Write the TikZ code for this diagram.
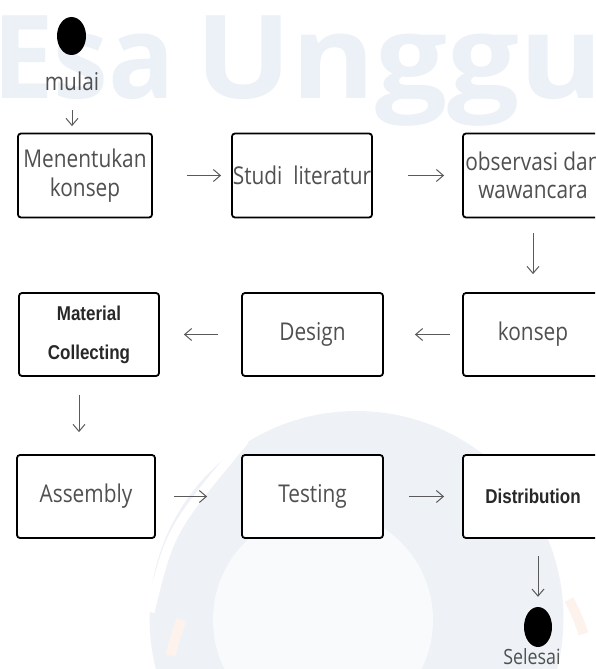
\documentclass[tikz,border=0pt]{standalone}
\usepackage{fontspec}
\setmainfont{Open Sans}[FakeStretch=0.85]
\newfontfamily\narrowsans{Liberation Sans}[FakeStretch=0.85]
\newfontfamily\esafont{Open Sans}[FakeStretch=0.95]
\newfontfamily\unggulfont{Open Sans}[FakeStretch=1.1]
\usetikzlibrary{arrows.meta,shapes.geometric}

\definecolor{labelgray}{RGB}{80,80,80}
\definecolor{boldgray}{RGB}{40,40,40}
\definecolor{arrowgray}{RGB}{90,90,90}
\definecolor{markblue}{RGB}{236,241,248}
\definecolor{markband}{RGB}{238,242,247}
\definecolor{markinner}{RGB}{248,250,252}
\definecolor{markorange}{RGB}{254,243,236}

\tikzset{
  stepbox/.style={draw=black, line width=1.8pt, rounded corners=3pt, fill=white,
    minimum width=140pt, minimum height=83pt, inner sep=0pt, align=center,
    text=labelgray, font=\fontsize{24.5}{28.5}\selectfont},
  boldbox/.style={stepbox, text=boldgray, font=\narrowsans\bfseries\fontsize{20}{39}\selectfont},
  dot/.style={ellipse, fill=black, inner sep=0pt, minimum width=29pt, minimum height=38pt},
  caption/.style={inner sep=0pt, anchor=base, text=labelgray},
  flow/.style={draw=arrowgray, line width=1pt, -{Straight Barb[length=7pt,width=12pt]}},
  watermark/.style={anchor=base west, inner sep=0pt, text=markblue,
    font=\bfseries\fontsize{116}{116}\selectfont}
}

\begin{document}
\begin{tikzpicture}[x=1pt, y=-1pt]
    \useasboundingbox (0,0) rectangle (595,669);
    \clip (0,0) rectangle (595,669);
    % watermark
    \fill[markband] (356.5,618) circle (207);
    \draw[white, line width=9pt] (150,612) .. controls (170,530) .. (245,440);
    \fill[markinner] (323,620) circle (110);
    \draw[markorange, line width=10pt] (380,700) ++(192:214) arc (192:202:214);
    \draw[markorange, line width=10pt] (380,700) ++(332:214) arc (332:342:214);
    \node[watermark] (wm) at (-8,99) {{\esafont Esa}\hspace{20pt}{\unggulfont Unggul}};

    \node[dot] (0) at (71.5,36) {};
    \node[caption, font=\fontsize{24.5}{28.5}\selectfont] (0l) at (72,90) {mulai};
    \node[stepbox, minimum width=134pt, minimum height=84pt] (1) at (85,175.5) {Menentukan\\konsep};
    \node[stepbox, minimum height=84pt] (2) at (302,175.5) {Studi\ \ literatur};
    \node[stepbox, minimum height=84pt] (3) at (533,175.5) {observasi dan\\wawancara};
    \node[stepbox] (4) at (533,334.5) {konsep};
    \node[stepbox, minimum width=141pt] (5) at (312.5,334.5) {Design};
    \node[boldbox] (6) at (89,334.5) {Material\\Collecting};
    \node[stepbox, minimum width=138pt] (7) at (86,496.5) {Assembly};
    \node[stepbox, minimum width=141pt] (8) at (312.5,496.5) {Testing};
    \node[boldbox] (9) at (533,496.5) {Distribution};
    \node[dot, minimum width=28pt, minimum height=40pt] (10) at (538,627) {};
    \node[caption, font=\fontsize{21}{24}\selectfont] (10l) at (532,664) {Selesai};

    \draw[flow, shorten <=20pt, shorten >=6.5pt] (0l.south) -- (0l.south |- 1.north);
    \draw[flow, shorten <=34pt, shorten >=10pt] (1) -- (2);
    \draw[flow, shorten <=35pt, shorten >=18pt] (2) -- (3);
    \draw[flow, shorten <=15pt, shorten >=18pt] (3) -- (4);
    \draw[flow, shorten <=12pt, shorten >=31pt] (4) -- (5);
    \draw[flow, shorten <=23pt, shorten >=24pt] (5) -- (6);
    \draw[flow, shorten <=18pt, shorten >=22pt] ([xshift=-10pt]6.south) -- ([xshift=-7pt]7.north);
    \draw[flow, shorten <=18pt, shorten >=34pt] (7) -- (8);
    \draw[flow, shorten <=25pt, shorten >=18pt] (8) -- (9);
    \draw[flow, shorten <=17pt, shorten >=10pt] (10 |- 9.south) -- (10);
\end{tikzpicture}
\end{document}
